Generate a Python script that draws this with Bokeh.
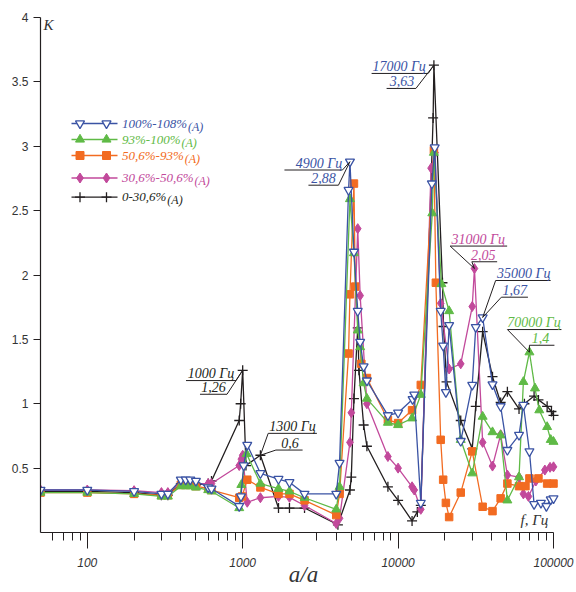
import math
from bokeh.plotting import figure
from bokeh.models import FixedTicker, Label, Range1d, CustomJSTickFormatter
from bokeh.embed import file_html
from bokeh.resources import INLINE

# ---------------- data ----------------
f_blue = [50, 100, 200, 300, 330, 400, 430, 460, 500, 600, 630, 950, 975, 1015, 1070, 1300, 1700, 2000, 2500, 4000,
          4200, 4800, 4900, 5200, 5500, 5700, 6000, 6300, 8600, 10000, 12400, 12700, 14000, 16500, 17200, 18800, 19500,
          20300, 21300, 25300, 30000, 31600, 35000, 40500, 45700, 50500, 60000, 64000, 70000, 75000, 83000, 90000,
          96000, 100000]
k_blue = [0.33, 0.33, 0.32, 0.30, 0.30, 0.41, 0.41, 0.41, 0.40, 0.35, 0.34, 0.205, 0.28, 0.52, 0.68, 0.46, 0.415, 0.39,
          0.30, 0.30, 0.54, 2.66, 2.88, 2.18, 1.72, 1.48, 1.29, 1.18, 0.91, 0.93, 1.035, 1.07, 0.23, 2.71, 2.99, 1.72,
          1.45, 1.09, 1.61, 0.71, 1.146, 1.595, 1.67, 1.15, 0.98, 0.64, 0.757, 0.99, 0.63, 0.22, 0.23, 0.205, 0.257,
          0.265]

f_green = [50, 100, 200, 300, 330, 400, 430, 460, 500, 600, 630, 950, 980, 1060, 1300, 1700, 2000, 2500, 4000, 4200,
           4900, 5200, 5500, 5700, 6000, 6300, 8600, 10000, 12300, 14000, 16600, 17000, 19000, 21300, 25300, 30000,
           35000, 40500, 45700, 50500, 60000, 64000, 70000, 76000, 81000, 91000, 96000, 100000]
k_green = [0.31, 0.31, 0.30, 0.28, 0.28, 0.36, 0.36, 0.36, 0.35, 0.33, 0.32, 0.19, 0.37, 0.61, 0.38, 0.34, 0.32, 0.27,
           0.18, 0.355, 2.59, 2.17, 1.57, 1.44, 1.16, 1.04, 0.853, 0.835, 0.887, 1.07, 2.48, 2.95, 1.93, 1.72, 0.72,
           0.46, 0.9, 0.78, 0.755, 0.25, 0.43, 1.17, 1.40, 1.12, 0.95, 0.82, 0.72, 0.705]

f_orange = [50, 100, 200, 300, 330, 400, 430, 460, 500, 600, 630, 950, 990, 1070, 1300, 1700, 2000, 2500, 4000, 4200,
            4800, 4900, 5200, 5300, 5800, 6300, 8600, 10000, 12300, 14000, 17000, 17500, 18800, 19500, 20300, 21300,
            25300, 30000, 35000, 40500, 45700, 50500, 60000, 66000, 70000, 80000, 91000, 100000]
k_orange = [0.31, 0.31, 0.30, 0.29, 0.29, 0.37, 0.37, 0.37, 0.36, 0.34, 0.33, 0.27, 0.28, 0.41, 0.35, 0.30, 0.30, 0.25,
            0.135, 0.30, 1.39, 1.85, 2.71, 1.91, 1.31, 1.20, 0.874, 0.85, 0.95, 1.146, 2.97, 1.94, 0.72, 0.41, 0.23,
            0.12, 0.31, 0.63, 0.2, 0.166, 0.265, 0.38, 0.36, 0.36, 0.42, 0.42, 0.38, 0.38]

f_pink = [50, 100, 200, 300, 330, 400, 430, 460, 500, 600, 630, 950, 980, 1000, 1070, 1300, 1700, 2000, 2500, 4000,
          4200, 4900, 5000, 5500, 5700, 6300, 8600, 10000, 12300, 12700, 14000, 16300, 17300, 18800, 21300, 25300,
          30000, 31000, 35000, 40500, 45700, 50500, 60000, 64000, 69000, 77000, 88000, 95000, 100000]
k_pink = [0.33, 0.33, 0.325, 0.31, 0.31, 0.39, 0.39, 0.39, 0.38, 0.38, 0.38, 0.52, 0.57, 0.60, 0.235, 0.27, 0.28,
          0.273, 0.21, 0.07, 0.11, 0.70, 0.93, 2.36, 1.84, 1.0, 0.59, 0.50, 0.355, 0.33, 0.18, 2.83, 2.95, 1.78, 1.27,
          1.31, 1.755, 2.05, 0.70, 0.516, 0.76, 0.446, 0.43, 0.30, 0.28, 0.40, 0.485, 0.506, 0.51]

f_black = [50, 100, 200, 300, 330, 400, 430, 460, 500, 600, 630, 950, 970, 1000, 1050, 1300, 1700, 2000, 2500, 4100,
           4900, 5000, 5200, 5500, 5600, 6000, 6300, 8600, 10000, 12300, 13300, 14000, 16800, 17000, 19300, 19600,
           20500, 25300, 30000, 31600, 35000, 40500, 45700, 50500, 60000, 65000, 75000, 80000, 91000, 97000, 100000]
k_black = [0.32, 0.32, 0.31, 0.29, 0.29, 0.38, 0.38, 0.38, 0.37, 0.38, 0.40, 0.87, 1.0, 1.26, 0.52, 0.60, 0.19, 0.19,
           0.19, 0.06, 0.33, 0.43, 1.04, 1.59, 1.26, 0.835, 0.67, 0.355, 0.25, 0.09, 0.16, 0.21, 3.22, 3.63, 1.94,
           1.60, 1.17, 0.87, 0.65, 0.98, 1.56, 1.21, 1.01, 1.094, 0.96, 1.0, 1.06, 1.03, 0.98, 0.94, 0.91]

series_names = ["100%-108%", "93%-100%", "50,6%-93%", "30,6%-50,6%", "0-30,6%"]
x_ticks = [100, 1000, 10000, 100000]
y_ticks = [0.5, 1, 1.5, 2, 2.5, 3, 3.5, 4]

# annotations: (frequency, value, line1, line2)
ann_data = [(1000, 1.26, "1000 Гц", "1,26"),
            (1300, 0.6, "1300 Гц", "0,6"),
            (4900, 2.88, "4900 Гц", "2,88"),
            (17000, 3.63, "17000 Гц", "3,63"),
            (31000, 2.05, "31000 Гц", "2,05"),
            (35000, 1.67, "35000 Гц", "1,67"),
            (70000, 1.4, "70000 Гц", "1,4")]

# ---------------- style ----------------
BLUE = "#3a53a4"
GREEN = "#5fba46"
ORANGE = "#f26b21"
PINK = "#c2499b"
BLACK = "#231f20"
SERIF = "Liberation Serif"
SANS = "Liberation Sans"

# geometry (page pixels)
FX0, FY0 = 40, 532          # frame left / bottom on page
FT = 17                      # frame top on page
PXD = 513 / math.log10(100000 / 50)   # pixels per decade
PXK = 515 / 4                # pixels per unit K
FW = 526
XMAX = 50 * 10 ** (FW / PXD)


def to_px(f, k):
    return FX0 + PXD * math.log10(f / 50), FY0 - PXK * k


def to_data(px, py):
    return 50 * 10 ** ((px - FX0) / PXD), (FY0 - py) / PXK


def label(px, py, text, size, color, align="left", font=SERIF, style="italic"):
    # py = vertical centre of the text on the page
    p.add_layout(Label(x=px - FX0, y=FY0 - py, x_units="screen", y_units="screen", text=text,
                       text_font=font, text_font_style=style, text_font_size=size, text_color=color,
                       text_align=align, text_baseline="middle"))


p = figure(frame_width=FW, frame_height=515, x_axis_type="log",
           x_range=Range1d(50, XMAX), y_range=Range1d(0, 4),
           output_backend="svg", toolbar_location=None,
           min_border_left=FX0, min_border_right=8, min_border_top=FT, min_border_bottom=58)
p.outline_line_color = None
p.grid.visible = False
p.background_fill_color = "white"

# x axis
p.xaxis.ticker = FixedTicker(ticks=x_ticks,
                             minor_ticks=[m * 10 ** e for e in range(1, 5) for m in range(2, 10) if 50 < m * 10 ** e < 100000])
p.xaxis.formatter = CustomJSTickFormatter(code="return String(tick)")
p.xaxis.bounds = (50, 100000)
p.xaxis.major_tick_out = 16
p.xaxis.major_tick_in = 0
p.xaxis.minor_tick_out = 8
p.xaxis.minor_tick_in = 0
p.xaxis.axis_line_color = BLACK
p.xaxis.major_tick_line_color = BLACK
p.xaxis.minor_tick_line_color = BLACK
p.xaxis.axis_line_width = 1.2
p.xaxis.major_label_text_font = SANS
p.xaxis.major_label_text_font_style = "italic"
p.xaxis.major_label_text_font_size = "12px"
p.xaxis.major_label_text_color = "#333333"
p.xaxis.major_label_standoff = 9
p.xaxis.axis_label = "a/a"
p.xaxis.axis_label_text_font = SERIF
p.xaxis.axis_label_text_font_style = "italic"
p.xaxis.axis_label_text_font_size = "23px"
p.xaxis.axis_label_text_color = "#333333"
p.xaxis.axis_label_standoff = -8

# y axis
p.yaxis.ticker = FixedTicker(ticks=y_ticks)
p.yaxis.formatter = CustomJSTickFormatter(code="return String(tick)")
p.yaxis.major_tick_out = 7
p.yaxis.major_tick_in = 0
p.yaxis.minor_tick_line_color = None
p.yaxis.axis_line_color = BLACK
p.yaxis.major_tick_line_color = BLACK
p.yaxis.axis_line_width = 1.2
p.yaxis.major_label_text_font = SANS
p.yaxis.major_label_text_font_size = "12px"
p.yaxis.major_label_text_color = "#333333"
p.yaxis.major_label_standoff = 5

# ---------------- series ----------------
series = [
    (f_black, k_black, BLACK, "cross", dict(size=10, line_width=1.3)),
    (f_pink, k_pink, PINK, "diamond", dict(size=10, fill_color=PINK)),
    (f_orange, k_orange, ORANGE, "square", dict(size=7.5, fill_color=ORANGE)),
    (f_green, k_green, GREEN, "triangle", dict(size=9, fill_color=GREEN)),
    (f_blue, k_blue, BLUE, "inverted_triangle", dict(size=9, fill_color="white", line_width=1.3)),
]
for fx, ky, col, mk, kw in series:
    p.line(fx, ky, line_color=col, line_width=1.3)
    p.scatter(fx, ky, marker=mk, line_color=col, **kw)

# ---------------- legend (manual) ----------------
leg_rows = [(BLUE, "inverted_triangle", dict(size=9, fill_color="white", line_width=1.3), 123),
            (GREEN, "triangle", dict(size=9, fill_color=GREEN), 139),
            (ORANGE, "square", dict(size=8, fill_color=ORANGE), 155),
            (PINK, "diamond", dict(size=10, fill_color=PINK), 177.5),
            (BLACK, "cross", dict(size=10, line_width=1.3), 196.7)]
cw = {"%": 10.8, "-": 4.3, ",": 3.25}
for (col, mk, kw, ry), name in zip(leg_rows, series_names):
    a = to_data(71, ry)
    b = to_data(117, ry)
    p.line([a[0], b[0]], [a[1], b[1]], line_color=col, line_width=1.3)
    m1 = to_data(79.5, ry)
    m2 = to_data(106, ry)
    p.scatter([m1[0], m2[0]], [m1[1], m2[1]], marker=mk, line_color=col, **kw)
    tx = 121.5
    label(tx, ry - 0.5, name, "13px", col)
    w = sum(cw.get(c, 6.5) for c in name)
    label(tx + w + 1, ry + 3, "(A)", "12px", col)

# ---------------- annotations ----------------
# per annotation: colour, (t1 dx), (u1 x0, x1, dy), (t2 dx), (u2 x0, x1, dy), leader side
ann_geom = [
    (BLACK, -31.7, (-56.7, -6.7, 10.3), -29.2, (-42.7, -15.7, 24.0), "right"),
    (BLACK, 32.2, (7.8, 56.5, -21.9), 29.5, (15.5, 42.2, -5.2), "left"),
    (BLUE, -31.0, (-65.5, -7.5, 8.3), -26.5, (-41.5, -11.5, 23.5), "right"),
    (BLUE, -34.8, (-62.3, -5.7, 8.3), -32.0, (-47.3, -18.0, 23.3), "right"),
    (PINK, 3.7, (-24.3, 32.7, -22.5), 8.7, (-2.6, 22.7, -6.8), "left"),
    (BLUE, 41.0, (13.0, 68.0, -37.0), 32.0, (18.7, 45.3, -20.3), "left"),
    (GREEN, 4.5, (-22.0, 32.0, -22.7), 11.0, (0.0, 25.0, -7.0), "left"),
]
sx0, sy0, sx1, sy1 = [], [], [], []
for (f, k, t1, t2), (col, t1dx, u1, t2dx, u2, side) in zip(ann_data, ann_geom):
    px, py = to_px(f, k)
    for (ux0, ux1, udy) in (u1, u2):
        a = to_data(px + ux0, py + udy)
        b = to_data(px + ux1, py + udy)
        sx0.append(a[0]); sy0.append(a[1]); sx1.append(b[0]); sy1.append(b[1])
        e = a if side == "left" else b
        sx0.append(e[0]); sy0.append(e[1]); sx1.append(f); sy1.append(k)
    for txt, tdx, u in ((t1, t1dx, u1), (t2, t2dx, u2)):
        label(px + tdx, py + u[2] - 7, txt, "14px", col, align="center")
p.segment(sx0, sy0, sx1, sy1, line_color=BLACK, line_width=1.0)

# ---------------- axis titles ----------------
label(43, 24.5, "K", "15px", "#333333")
label(520, 519, "f, Гц", "15px", "#333333")

open("out.html", "w").write(file_html(p, INLINE))
